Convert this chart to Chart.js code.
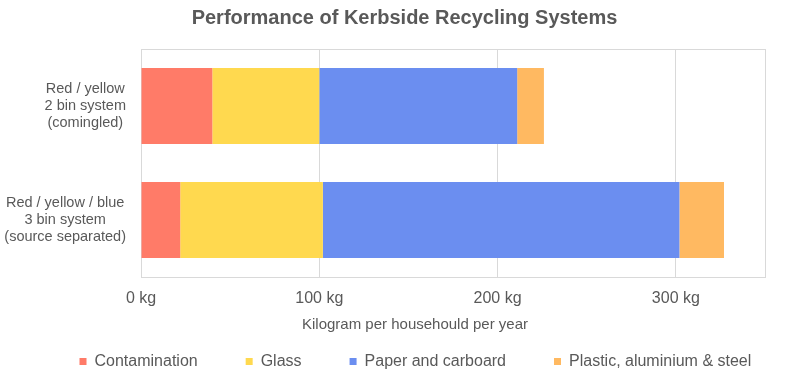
<!DOCTYPE html>
<html>
<head>
<meta charset="utf-8">
<script src="https://cdn.jsdelivr.net/npm/chart.js@4"></script>
<style>
  html, body { margin: 0; padding: 0; background: #ffffff; }
  #wrap { width: 800px; height: 376px; position: relative; }
</style>
</head>
<body>
<div id="wrap"><canvas id="c"></canvas></div>
<script>
// ---- data ----
const categories = [
  ["Red / yellow", "2 bin system", "(comingled)"],
  ["Red / yellow / blue", "3 bin system", "(source separated)"]
];
const seriesNames = ["Contamination", "Glass", "Paper and carboard", "Plastic, aluminium & steel"];
const contamination = [40, 22];
const glass = [60, 80];
const paper = [111, 200];
const plastic = [15, 25];
const xTickValues = [0, 100, 200, 300];
const xUnit = " kg";
const chartTitle = "Performance of Kerbside Recycling Systems";
const xAxisTitle = "Kilogram per househould per year";

const colors = ["#FF7B68", "#FFD94F", "#6B8EF0", "#FFB961"];
const textColor = "#595959";
const gridColor = "#d9d9d9";
const FONT = '"Liberation Sans", Arial, sans-serif';

Chart.defaults.font.family = FONT;
Chart.defaults.color = textColor;

const plotBorder = {
  id: 'plotBorder',
  beforeDatasetsDraw(chart) {
    const a = chart.chartArea, ctx = chart.ctx;
    ctx.save();
    ctx.strokeStyle = gridColor;
    ctx.lineWidth = 1;
    const l = Math.round(a.left), t = Math.round(a.top), r = Math.round(a.right), b = Math.round(a.bottom);
    ctx.strokeRect(l + 0.5, t + 0.5, r - l, b - t);
    ctx.restore();
  }
};

const axisTexts = {
  id: 'axisTexts',
  afterDraw(chart) {
    const ys = chart.scales.y, ctx = chart.ctx;
    ctx.save();
    ctx.fillStyle = textColor;
    ctx.textAlign = 'center';
    ctx.textBaseline = 'middle';
    // category labels, each block centred line by line, block right-aligned to the axis
    ctx.font = '14.5px ' + FONT;
    const rightEdge = chart.chartArea.left - 15;
    const lh = 17;
    chart.data.labels.forEach((lines, i) => {
      const cy = ys.getPixelForValue(i);
      let widest = 0;
      lines.forEach(s => { widest = Math.max(widest, ctx.measureText(s).width); });
      const cx = rightEdge - widest / 2;
      lines.forEach((s, j) => {
        ctx.fillText(s, cx, cy + (j - (lines.length - 1) / 2) * lh);
      });
    });
    // x axis title
    ctx.font = '15px ' + FONT;
    ctx.fillText(xAxisTitle, 415, 325);
    ctx.restore();
  }
};

const legendTweak = {
  id: 'legendTweak',
  beforeInit(chart) {
    const lg = chart.legend;
    const orig = lg.fit;
    lg.fit = function () { orig.call(this); this.height = 36; };
  },
  afterLayout(chart) {
    const lg = chart.legend;
    const pad = lg.options.labels.padding;
    lg.left = 79.5 - pad;
    lg.right = 2000;
    lg.top = 361.5 - pad - 8;
  }
};

new Chart(document.getElementById('c'), {
  type: 'bar',
  data: {
    labels: categories,
    datasets: [
      { label: seriesNames[0], data: contamination, backgroundColor: colors[0] },
      { label: seriesNames[1], data: glass, backgroundColor: colors[1] },
      { label: seriesNames[2], data: paper, backgroundColor: colors[2] },
      { label: seriesNames[3], data: plastic, backgroundColor: colors[3] }
    ]
  },
  options: {
    indexAxis: 'y',
    responsive: true,
    maintainAspectRatio: false,
    animation: false,
    devicePixelRatio: 1,
    datasets: { bar: { barPercentage: 0.667, categoryPercentage: 1, borderWidth: 0 } },
    layout: { padding: { left: 20, right: 11, top: 0, bottom: 0 } },
    scales: {
      x: {
        type: 'linear',
        stacked: true,
        min: 0,
        max: 350,
        grid: { color: gridColor, drawTicks: false },
        border: { display: false },
        ticks: {
          stepSize: 100,
          includeBounds: false,
          padding: 12,
          color: textColor,
          font: { size: 16 },
          callback: (v) => xTickValues.includes(v) ? v + xUnit : ''
        },
        title: { display: false, text: xAxisTitle },
        afterFit(s) { s.height = 63; }
      },
      y: {
        type: 'category',
        stacked: true,
        display: true,
        grid: { display: false },
        border: { display: false },
        ticks: { display: false },
        afterFit(s) { s.width = 121; }
      },
      yR: {
        type: 'linear',
        position: 'right',
        display: true,
        grid: { display: false },
        border: { display: false },
        ticks: { display: false },
        afterFit(s) { s.width = 24; }
      }
    },
    plugins: {
      title: {
        display: true,
        text: chartTitle,
        color: textColor,
        font: { size: 20, weight: 'bold' },
        padding: { top: 6, bottom: 19 }
      },
      legend: {
        position: 'bottom',
        align: 'start',
        labels: {
          boxWidth: 7,
          boxHeight: 7,
          padding: 48,
          color: textColor,
          font: { size: 16 }
        }
      },
      tooltip: { enabled: false }
    }
  },
  plugins: [plotBorder, axisTexts, legendTweak]
});
</script>
</body>
</html>
